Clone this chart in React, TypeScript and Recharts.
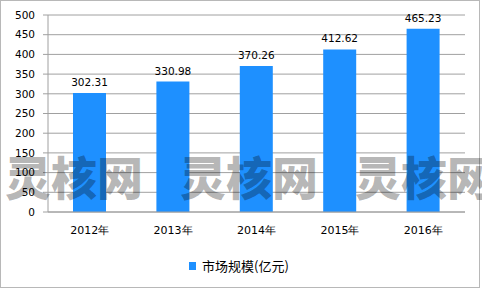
import { Bar, BarChart, CartesianGrid, LabelList, Legend, XAxis, YAxis } from "recharts"

const years = ["2012年", "2013年", "2014年", "2015年", "2016年"]
const marketSize = [302.31, 330.98, 370.26, 412.62, 465.23]
const yTicks = [0, 50, 100, 150, 200, 250, 300, 350, 400, 450, 500]
const boundaryTicks = [0, 1, 2, 3, 4, 5]
const seriesName = "市场规模(亿元)"
const watermark = "灵核网"
const watermarkLefts = [5, 180, 355]

const data = years.map((year, i) => ({ year, value: marketSize[i] }))

const BLUE = "#1E90FF"
const GRAY = "#a0a0a0"
const FONT = "'DejaVu Sans', Verdana, sans-serif"

function LegendContent() {
  return (
    <div style={{ display: "flex", justifyContent: "center", alignItems: "center", paddingRight: 4 }}>
      <span style={{ width: 7, height: 8, background: BLUE, display: "inline-block", marginRight: 6 }} />
      <span style={{ fontSize: 13, color: "#000", fontFamily: "'Noto Sans CJK SC', sans-serif", lineHeight: "16px" }}>
        {seriesName}
      </span>
    </div>
  )
}

export default function App() {
  return (
    <div style={{ position: "absolute", left: 0, top: 0, width: 482, height: 290, background: "#fff" }}>
      <div
        style={{
          position: "absolute",
          left: 0,
          top: 0,
          width: 480,
          height: 288,
          border: "1px solid #b8b8b8",
          boxSizing: "border-box",
        }}
      />
      <BarChart
        width={482}
        height={290}
        data={data}
        margin={{ top: 15, right: 17, left: 0, bottom: 47 }}
        style={{ fontFamily: FONT }}
      >
        <CartesianGrid vertical={false} stroke={GRAY} />
        <XAxis
          xAxisId="bounds"
          type="number"
          domain={[0, 5]}
          ticks={boundaryTicks}
          allowDataOverflow
          height={1}
          axisLine={false}
          tick={false}
          tickSize={4}
          tickLine={{ stroke: GRAY }}
        />
        <XAxis
          dataKey="year"
          height={30}
          axisLine={{ stroke: GRAY }}
          tickLine={false}
          tickSize={6}
          tickMargin={8}
          tick={{ fontSize: 11, fill: "#000" }}
        />
        <YAxis
          width={48}
          domain={[0, 500]}
          ticks={yTicks}
          interval={0}
          axisLine={{ stroke: GRAY }}
          tickLine={{ stroke: GRAY }}
          tickSize={5}
          tickMargin={8}
          tick={{ fontSize: 10.5, fill: "#000" }}
        />
        <Legend
          layout="horizontal"
          verticalAlign="middle"
          align="center"
          wrapperStyle={{ top: 258, left: 0, width: 482 }}
          content={<LegendContent />}
        />
        <Bar dataKey="value" name={seriesName} fill={BLUE} barSize={33} isAnimationActive={false}>
          <LabelList
            dataKey="value"
            position="top"
            offset={7}
            formatter={(v: number) => v.toFixed(2)}
            style={{ fontSize: 10.5, fill: "#000" }}
          />
        </Bar>
      </BarChart>
      {watermarkLefts.map((left) => (
        <div
          key={left}
          style={{
            position: "absolute",
            left,
            top: 152,
            fontSize: 46,
            lineHeight: "46px",
            fontWeight: 900,
            color: "rgba(0,0,0,0.3)",
            fontFamily: "'Noto Sans CJK SC', sans-serif",
            whiteSpace: "nowrap",
            pointerEvents: "none",
          }}
        >
          {watermark}
        </div>
      ))}
    </div>
  )
}
